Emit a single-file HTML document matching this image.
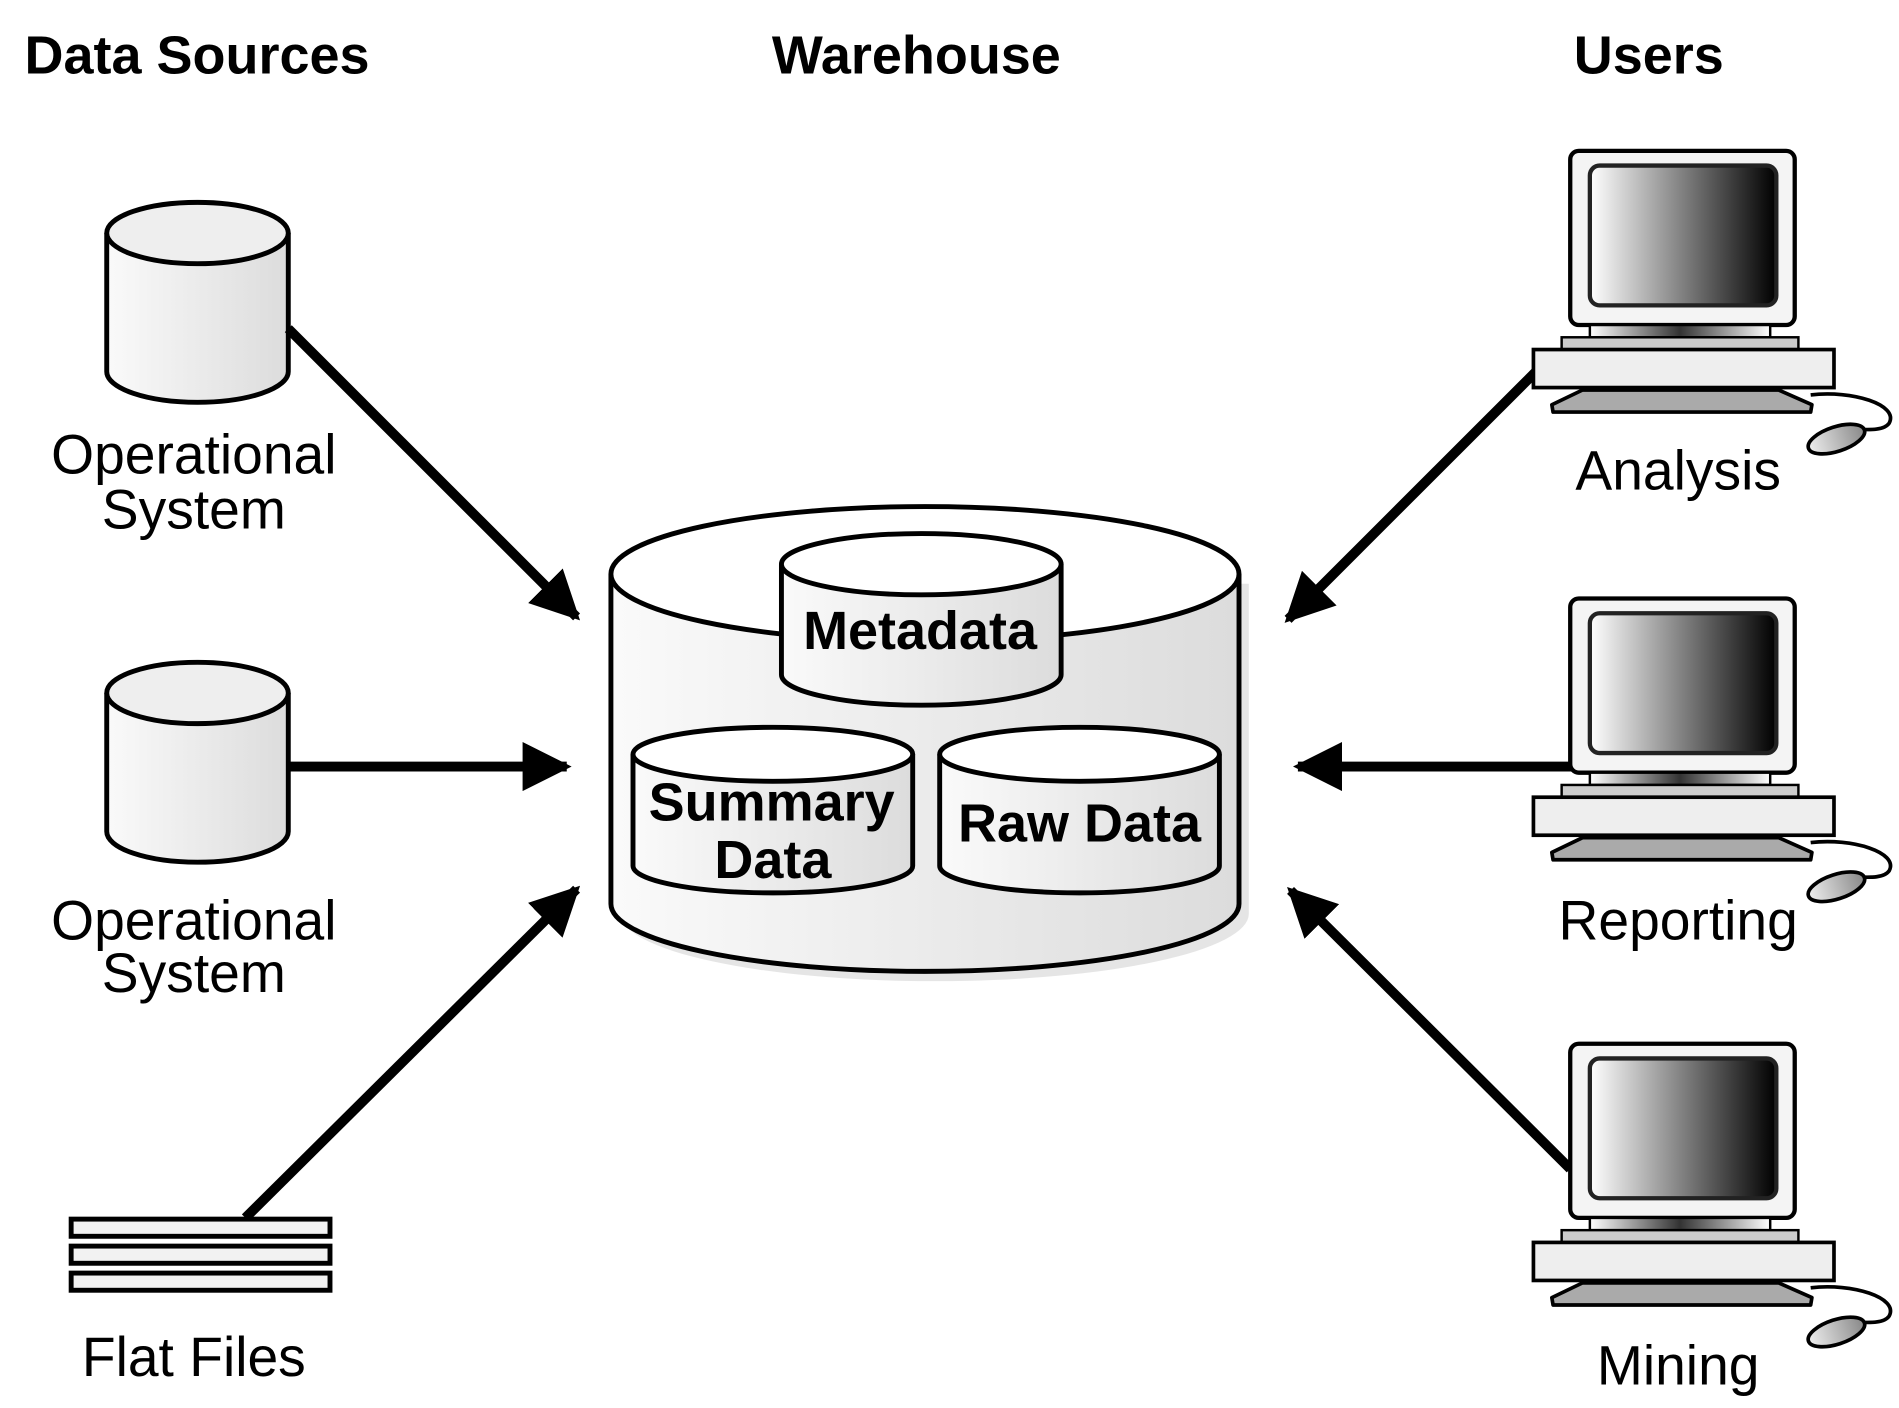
<!DOCTYPE html>
<html><head><meta charset="utf-8"><style>
html,body{margin:0;padding:0;background:#fff;}
svg{display:block;}
text{font-family:"Liberation Sans",Arial,sans-serif;fill:#000;}
</style></head><body>
<svg width="1899" height="1408" viewBox="0 0 1548 1148" preserveAspectRatio="none" xmlns="http://www.w3.org/2000/svg">
<defs>
<linearGradient id="cyl" x1="0" x2="1" y1="0" y2="0"><stop offset="0" stop-color="#fafafa"/><stop offset="1" stop-color="#dcdcdc"/></linearGradient>
<linearGradient id="scr" x1="0" x2="1" y1="0" y2="0"><stop offset="0" stop-color="#fff"/><stop offset="1" stop-color="#000"/></linearGradient>
<linearGradient id="neck" x1="0" x2="1"><stop offset="0" stop-color="#fff"/><stop offset="0.5" stop-color="#333"/><stop offset="1" stop-color="#fff"/></linearGradient>
<linearGradient id="mouse" x1="0" x2="1"><stop offset="0" stop-color="#eee"/><stop offset="1" stop-color="#888"/></linearGradient>
<marker id="ah" viewBox="0 0 10 10" refX="9" refY="5" markerWidth="5" markerHeight="5" orient="auto" markerUnits="strokeWidth"><path d="M0,0 L10,5 L0,10 Z" fill="#000"/></marker>
<g id="comp">
<rect x="1280" y="123" width="183" height="142" rx="7" fill="#f4f4f4" stroke="#000" stroke-width="3.5"/>
<rect x="1296" y="135" width="152" height="114" rx="8" fill="url(#scr)" stroke="#222" stroke-width="3.5"/>
<rect x="1296" y="265" width="147" height="10" fill="url(#neck)" stroke="#000" stroke-width="2"/>
<rect x="1273" y="275" width="193" height="10" fill="#ccc" stroke="#000" stroke-width="2"/>
<rect x="1250" y="285" width="245" height="31" fill="#eee" stroke="#000" stroke-width="3"/>
<path d="M1290,318 L1450,318 L1477,330 L1476,336 L1266,336 L1265,330 Z" fill="#aaa" stroke="#000" stroke-width="3" stroke-linejoin="round"/>
<path d="M1476,322 C1510,318 1548,330 1540,345 C1535,352 1520,350 1512,350" fill="none" stroke="#000" stroke-width="3"/>
<ellipse cx="1497" cy="358" rx="24" ry="10" transform="rotate(-18 1497 358)" fill="url(#mouse)" stroke="#000" stroke-width="3"/>
</g>
</defs>

<text x="20" y="60" font-size="44" font-weight="bold">Data Sources</text>
<text x="747" y="60" font-size="44" font-weight="bold" text-anchor="middle">Warehouse</text>
<text x="1344" y="60" font-size="44" font-weight="bold" text-anchor="middle">Users</text>

<path d="M87,190 L87,303 A74,25 0 0 0 235,303 L235,190" fill="url(#cyl)" stroke="#000" stroke-width="4"/>
<ellipse cx="161" cy="190" rx="74" ry="25" fill="#eee" stroke="#000" stroke-width="4"/>
<text x="158" y="386" font-size="45" text-anchor="middle">Operational</text>
<text x="158" y="431" font-size="45" text-anchor="middle">System</text>

<path d="M87,565 L87,678 A74,25 0 0 0 235,678 L235,565" fill="url(#cyl)" stroke="#000" stroke-width="4"/>
<ellipse cx="161" cy="565" rx="74" ry="25" fill="#eee" stroke="#000" stroke-width="4"/>
<text x="158" y="766" font-size="45" text-anchor="middle">Operational</text>
<text x="158" y="809" font-size="45" text-anchor="middle">System</text>

<g fill="#f2f2f2" stroke="#000" stroke-width="4">
<rect x="58" y="994" width="211" height="14"/>
<rect x="58" y="1016" width="211" height="14"/>
<rect x="58" y="1038" width="211" height="14"/>
</g>
<text x="158" y="1122" font-size="45" text-anchor="middle">Flat Files</text>

<g stroke="#000" stroke-width="8" marker-end="url(#ah)">
<line x1="235" y1="268" x2="470" y2="503"/>
<line x1="235" y1="625" x2="462" y2="625"/>
<line x1="200" y1="993" x2="470" y2="725"/>
</g>

<path d="M506,476 L506,745 A256,55 0 0 0 1018,745 L1018,476" fill="#ccc" opacity="0.5"/>
<path d="M498,468 L498,737 A256,55 0 0 0 1010,737 L1010,468" fill="url(#cyl)" stroke="#000" stroke-width="4"/>
<ellipse cx="754" cy="468" rx="256" ry="55" fill="#fff" stroke="#000" stroke-width="4"/>

<path d="M637,460 L637,550 A114,25 0 0 0 865,550 L865,460" fill="url(#cyl)" stroke="#000" stroke-width="4"/>
<ellipse cx="751" cy="460" rx="114" ry="25" fill="#fff" stroke="#000" stroke-width="4"/>
<text x="750" y="529" font-size="44" font-weight="bold" text-anchor="middle">Metadata</text>

<path d="M516,615 L516,706 A114,22 0 0 0 744,706 L744,615" fill="url(#cyl)" stroke="#000" stroke-width="4"/>
<ellipse cx="630" cy="615" rx="114" ry="22" fill="#fff" stroke="#000" stroke-width="4"/>
<text x="629" y="669" font-size="44" font-weight="bold" text-anchor="middle">Summary</text>
<text x="630" y="716" font-size="44" font-weight="bold" text-anchor="middle">Data</text>

<path d="M766,615 L766,706 A114,22 0 0 0 994,706 L994,615" fill="url(#cyl)" stroke="#000" stroke-width="4"/>
<ellipse cx="880" cy="615" rx="114" ry="22" fill="#fff" stroke="#000" stroke-width="4"/>
<text x="880" y="686" font-size="44" font-weight="bold" text-anchor="middle">Raw Data</text>

<g stroke="#000" stroke-width="8" marker-end="url(#ah)">
<line x1="1252" y1="303" x2="1050" y2="505"/>
<line x1="1282" y1="625" x2="1058" y2="625"/>
<line x1="1280" y1="953" x2="1052" y2="726"/>
</g>

<use href="#comp"/>
<use href="#comp" transform="translate(0,365)"/>
<use href="#comp" transform="translate(0,728)"/>
<text x="1368" y="399" font-size="45" text-anchor="middle">Analysis</text>
<text x="1368" y="766" font-size="45" text-anchor="middle">Reporting</text>
<text x="1368" y="1129" font-size="45" text-anchor="middle">Mining</text>
</svg>
</body></html>
